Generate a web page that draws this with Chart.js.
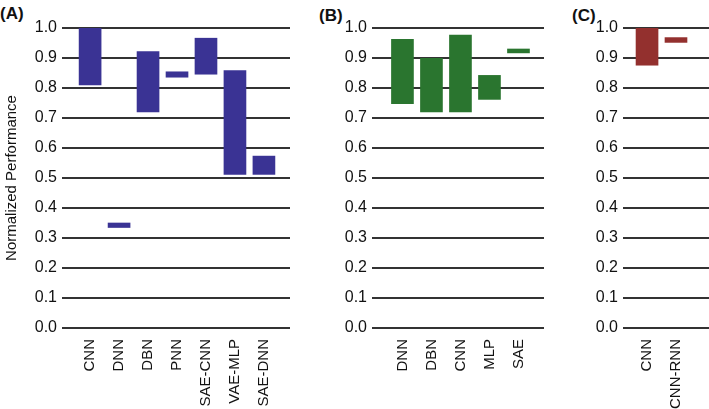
<!DOCTYPE html>
<html>
<head>
<meta charset="utf-8">
<script src="https://cdn.jsdelivr.net/npm/chart.js@4"></script>
<style>
  html, body { margin: 0; padding: 0; background: #fff; }
  body { width: 709px; height: 409px; position: relative; overflow: hidden; font-family: "Liberation Sans", Arial, sans-serif; }
  .panel { position: absolute; top: 0; height: 409px; }
  .tag { position: absolute; font-weight: bold; font-size: 17px; line-height: 1; color: #111; }
</style>
</head>
<body>
<div class="tag" style="left:0px; top:5px;">(A)</div>
<div class="tag" style="left:319px; top:7px;">(B)</div>
<div class="tag" style="left:572px; top:7px;">(C)</div>
<div class="panel" style="left:0px; width:300px;"><canvas id="chartA"></canvas></div>
<div class="panel" style="left:330px; width:220px;"><canvas id="chartB"></canvas></div>
<div class="panel" style="left:580px; width:129px;"><canvas id="chartC"></canvas></div>
<script>
// panel A
const labelsA = ['CNN', 'DNN', 'DBN', 'PNN', 'SAE-CNN', 'VAE-MLP', 'SAE-DNN'];
const lowA = [0.81, 0.335, 0.72, 0.836, 0.846, 0.512, 0.512];
const highA = [1.0, 0.35, 0.921, 0.854, 0.966, 0.858, 0.573];

// panel B
const labelsB = ['DNN', 'DBN', 'CNN', 'MLP', 'SAE'];
const lowB = [0.748, 0.72, 0.72, 0.762, 0.917];
const highB = [0.962, 0.899, 0.976, 0.842, 0.93];

// panel C
const labelsC = ['CNN', 'CNN-RNN'];
const lowC = [0.876, 0.952];
const highC = [1.0, 0.968];

const yTicks = [0, 0.1, 0.2, 0.3, 0.4, 0.5, 0.6, 0.7, 0.8, 0.9, 1.0];

Chart.defaults.font.family = '"Liberation Sans", Arial, sans-serif';
Chart.defaults.color = '#111';
Chart.defaults.animation = false;

function makePanel(canvasId, labels, low, high, color, opts) {
    const canvas = document.getElementById(canvasId);
    const data = labels.map((l, i) => ({ x: i, y: [low[i], high[i]] }));

    const yScale = {
        min: 0,
        max: 1,
        afterBuildTicks: function (s) {
            s.ticks = yTicks.map(v => ({ value: v }));
        },
        afterFit: function (s) { s.width = opts.yWidth; },
        grid: { color: '#333', lineWidth: 2, drawTicks: false },
        border: { display: false },
        ticks: {
            padding: 5,
            font: { size: 16 },
            color: '#111',
            callback: v => v.toFixed(1)
        }
    };
    if (opts.yTitle) {
        yScale.title = {
            display: true,
            text: opts.yTitle,
            font: { size: 15 },
            color: '#111',
            padding: { top: 3, bottom: 0 }
        };
    }

    new Chart(canvas, {
        type: 'bar',
        data: {
            datasets: [{
                data: data,
                backgroundColor: color,
                borderWidth: 0,
                barThickness: 22
            }]
        },
        options: {
            responsive: true,
            maintainAspectRatio: false,
            layout: { padding: { top: 28, right: opts.right, left: 0, bottom: 0 } },
            plugins: { legend: { display: false }, tooltip: { enabled: false } },
            scales: {
                x: {
                    type: 'linear',
                    offset: false,
                    min: opts.xMin,
                    max: opts.xMax,
                    afterBuildTicks: function (s) {
                        s.ticks = labels.map((l, i) => ({ value: i }));
                    },
                    afterFit: function (s) { s.height = 81; },
                    grid: { display: false },
                    border: { display: false },
                    ticks: {
                        autoSkip: false,
                        minRotation: 90,
                        maxRotation: 90,
                        padding: 3,
                        font: { size: 15 },
                        color: '#111',
                        callback: v => labels[v]
                    }
                },
                y: yScale
            }
        }
    });
}

makePanel('chartA', labelsA, lowA, highA, '#3a3394',
    { yWidth: 62, right: 10, xMin: -0.97, xMax: 6.9, yTitle: 'Normalized Performance' });
makePanel('chartB', labelsB, lowB, highB, '#2a752f',
    { yWidth: 42, right: 6, xMin: -1.05, xMax: 4.88 });
makePanel('chartC', labelsC, lowC, highC, '#93302e',
    { yWidth: 43, right: 0, xMin: -0.83, xMax: 2.14 });
</script>
</body>
</html>
